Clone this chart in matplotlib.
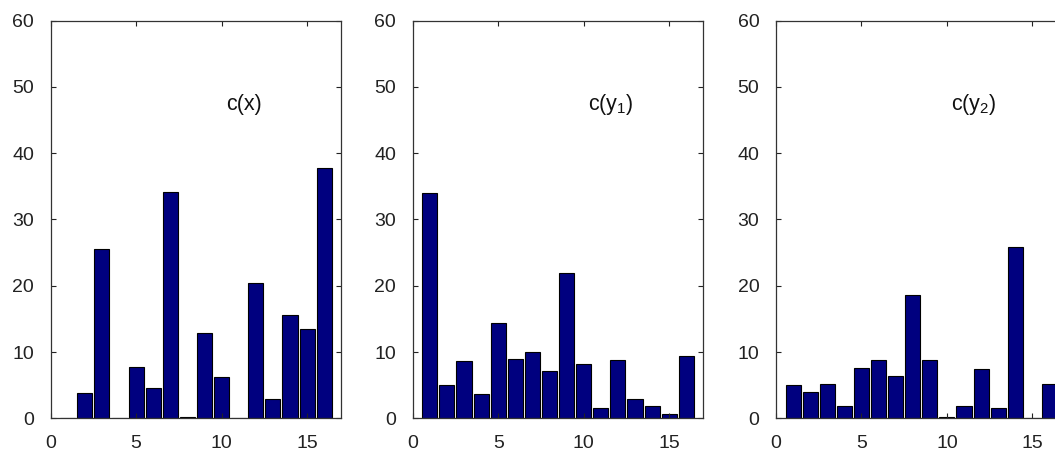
import matplotlib
matplotlib.use("Agg")
import matplotlib.pyplot as plt
import numpy as np

plt.rcParams['font.family'] = ['Liberation Sans', 'DejaVu Sans']
plt.rcParams['mathtext.fontset'] = 'custom'
plt.rcParams['mathtext.rm'] = 'Liberation Sans'
plt.rcParams['mathtext.it'] = 'Liberation Sans'

# bin index 1..16
bins = np.arange(1, 17)

c_x = [0, 3.8, 25.6, 0, 7.8, 4.6, 34.2, 0.25, 12.8, 6.2, 0, 20.4, 2.9, 15.6, 13.4, 37.8]
c_y1 = [34.0, 5.0, 8.6, 3.6, 14.4, 9.0, 10.0, 7.2, 22.0, 8.2, 1.5, 8.8, 2.9, 1.8, 0.6, 9.4]
c_y2 = [5.0, 4.0, 5.2, 1.8, 7.6, 8.8, 6.4, 18.6, 8.8, 0.25, 1.8, 7.4, 1.5, 25.8, 0, 5.2]

series = [c_x, c_y1, c_y2]
labels = ['c(x)', 'c(y$_\\mathrm{1}$)', 'c(y$_\\mathrm{2}$)']
label_x = [11.3, 11.6, 11.6]

# axes positions (figure fraction), the last panel runs past the right edge
lefts = [0.048, 0.3912, 0.7355]
bottom = 0.0807
width = 0.2755
height = 0.8738

fig = plt.figure(figsize=(10.55, 4.55), dpi=100)

for i in range(3):
    ax = fig.add_axes([lefts[i], bottom, width, height])
    ax.bar(bins, series[i], width=0.88, color='#00007f', edgecolor='black', linewidth=0.8)
    ax.set_xlim(0, 17)
    ax.set_ylim(0, 60)
    ax.set_xticks([0, 5, 10, 15])
    ax.set_yticks([0, 10, 20, 30, 40, 50, 60])
    ax.tick_params(direction='in', top=True, right=True, length=3.5, width=0.8,
                   labelsize=14, colors='#222222')
    ax.tick_params(axis='y', pad=12)
    ax.tick_params(axis='x', pad=12)
    for s in ax.spines.values():
        s.set_color('#333333')
        s.set_linewidth(0.9)
    ax.text(label_x[i], 47.4, labels[i], fontsize=15.5, ha='center', va='center', color='#111111')

fig.savefig('out.png', dpi=100)
